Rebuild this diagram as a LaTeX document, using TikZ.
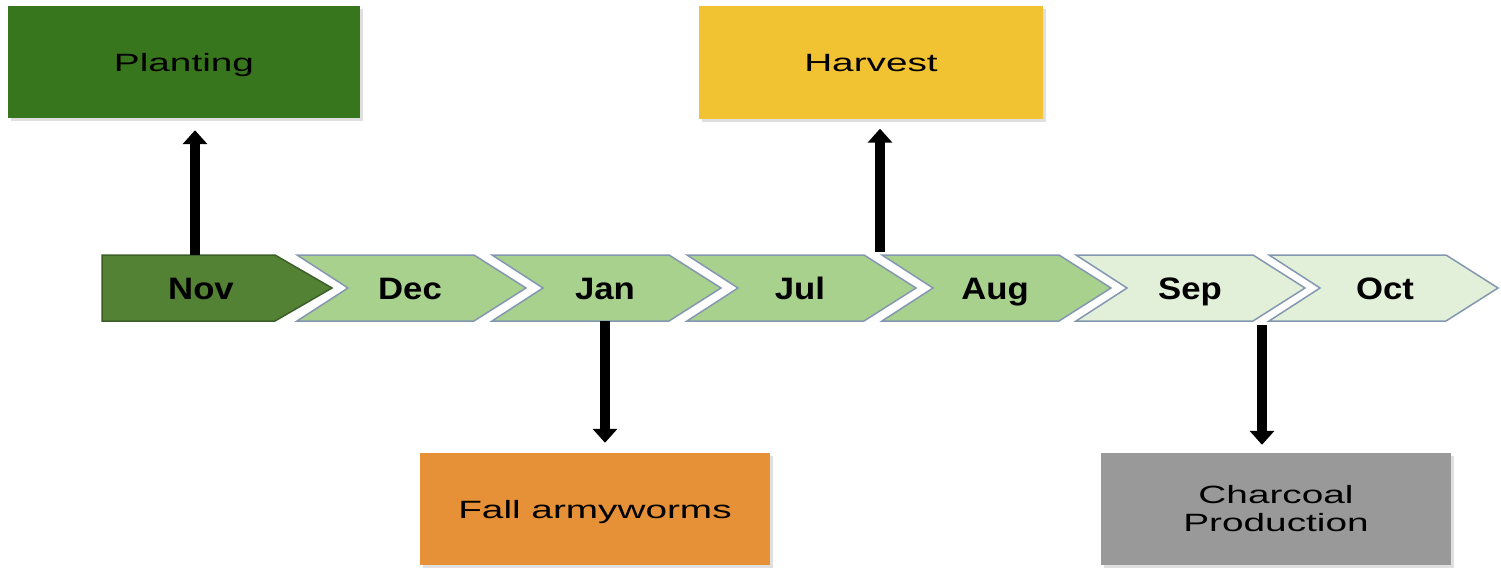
\documentclass[tikz,border=0pt]{standalone}
\usepackage{fontspec}
\setmainfont{Liberation Sans}
\newfontfamily\boxfont[FakeStretch=1.55]{Liberation Sans}
\newfontfamily\monfont[FakeStretch=1.12]{Liberation Sans}
\usetikzlibrary{arrows.meta,shadows}
\definecolor{plantgreen}{RGB}{56,118,29}
\definecolor{harvyellow}{RGB}{241,194,50}
\definecolor{fallorange}{RGB}{230,145,56}
\definecolor{charcgray}{RGB}{153,153,153}
\definecolor{novgreen}{RGB}{84,130,53}
\definecolor{novborder}{RGB}{60,95,40}
\definecolor{midgreen}{RGB}{169,209,142}
\definecolor{palegreen}{RGB}{226,240,217}
\definecolor{chevborder}{RGB}{132,151,176}
\tikzset{
  evbox/.style={rectangle, minimum width=352pt, minimum height=112pt, inner sep=0pt,
    align=center, font=\boxfont\fontsize{25}{28}\selectfont,
    drop shadow={shadow xshift=3pt, shadow yshift=-3pt, opacity=0.25}},
  onebox/.style={evbox, text height=23pt, text depth=5pt},
  chev/.style={draw=chevborder, line width=1.5pt, line join=miter},
  monlabel/.style={rectangle, minimum width=150pt, minimum height=66pt, inner sep=0pt,
    text height=28pt, text depth=6pt,
    font=\monfont\bfseries\fontsize{31}{34}\selectfont},
  arr/.style={line width=10pt, -{Triangle[width=24pt,length=14pt]}}
}
\begin{document}
\begin{tikzpicture}[x=1pt,y=-1pt]
\useasboundingbox (0,0) rectangle (1501,573);
% chevrons
\draw[chev, draw=novborder, fill=novgreen] (102,255) -- (275,255) -- (332,288) -- (275,321) -- (102,321) -- cycle;
\foreach \xo/\col in {297/midgreen,492/midgreen,687/midgreen,882/midgreen,1076/palegreen,1269/palegreen}{
  \draw[chev, fill=\col] (\xo,255) -- ({\xo+177},255) -- ({\xo+229},288) -- ({\xo+177},321) -- (\xo,321) -- ({\xo+51},288) -- cycle;
}
% month labels
\node[monlabel] (nov) at (201,288) {Nov};
\node[monlabel] (dec) at (410,288) {Dec};
\node[monlabel] (jan) at (605,288) {Jan};
\node[monlabel] (jul) at (800,288) {Jul};
\node[monlabel] (aug) at (995,288) {Aug};
\node[monlabel] (sep) at (1190,288) {Sep};
\node[monlabel] (oct) at (1385,288) {Oct};
% event boxes
\node[onebox, fill=plantgreen] (plant) at (184,62) {Planting};
\node[onebox, fill=harvyellow, minimum width=344pt, minimum height=113pt] (harv) at (871,62) {Harvest};
\node[onebox, fill=fallorange, minimum width=350pt] (fall) at (595,509) {Fall armyworms};
\node[evbox, fill=charcgray, minimum width=350pt] (charc) at (1276,509) {Charcoal\\Production};
% connectors
\coordinate (hstart) at (880,252);
\coordinate (sstart) at (1262,325);
\draw[arr, shorten >=12pt] ([xshift=-6pt]nov.north) -- ([xshift=-6pt]nov.north |- plant.south);
\draw[arr, shorten >=10pt] (hstart) -- (hstart |- harv.south);
\draw[arr, shorten >=10pt] (jan.south) -- (jan.south |- fall.north);
\draw[arr, shorten >=8pt] (sstart) -- (sstart |- charc.north);
\end{tikzpicture}
\end{document}
